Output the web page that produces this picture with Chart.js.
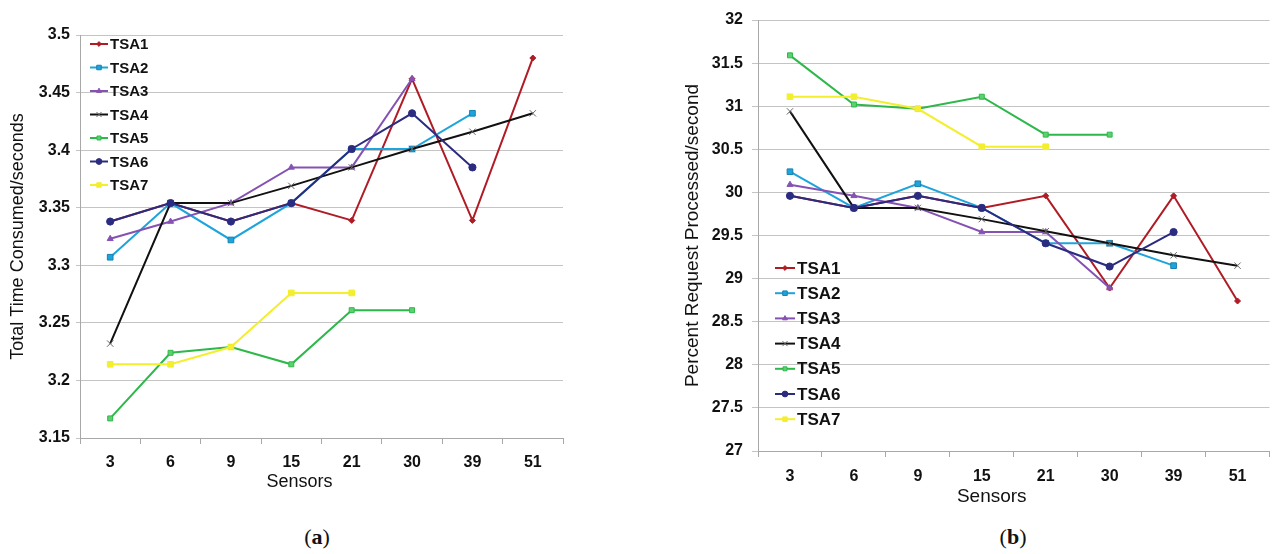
<!DOCTYPE html>
<html>
<head>
<meta charset="utf-8">
<script src="https://cdn.jsdelivr.net/npm/chart.js@4.4.0/dist/chart.umd.min.js"></script>
<style>
  body { margin: 0; background: #fff; width: 1275px; height: 554px; position: relative; overflow: hidden; }
  .wrap { position: absolute; top: 0; height: 515px; }
  #wrapA { left: 0; width: 600px; }
  #wrapB { left: 660px; width: 615px; }
  .cap { position: absolute; top: 537px; transform: translate(-50%, -50%); font-family: "Liberation Serif", serif; font-size: 22px; line-height: 1; color: #111; }
</style>
</head>
<body>
<div class="wrap" id="wrapA"><canvas id="chartA"></canvas></div>
<div class="wrap" id="wrapB"><canvas id="chartB"></canvas></div>
<div class="cap" style="left:317px">(<b>a</b>)</div>
<div class="cap" style="left:1013px">(<b>b</b>)</div>
<script>
// x categories
const sensors = ['3', '6', '9', '15', '21', '30', '39', '51'];
const names = ['TSA1', 'TSA2', 'TSA3', 'TSA4', 'TSA5', 'TSA6', 'TSA7'];

// (a) total time consumed, seconds
const timeTSA1 = [3.338, 3.354, 3.338, 3.354, 3.339, 3.462, 3.339, 3.480];
const timeTSA2 = [3.307, 3.354, 3.322, 3.354, 3.401, 3.401, 3.432, null];
const timeTSA3 = [3.323, 3.338, 3.354, 3.385, 3.385, 3.462, null, null];
const timeTSA4 = [3.232, 3.354, 3.354, 3.369, 3.385, 3.401, 3.416, 3.432];
const timeTSA5 = [3.167, 3.224, 3.229, 3.214, 3.261, 3.261, null, null];
const timeTSA6 = [3.338, 3.354, 3.338, 3.354, 3.401, 3.432, 3.385, null];
const timeTSA7 = [3.214, 3.214, 3.229, 3.276, 3.276, null, null, null];

// (b) percent request processed per second
const rateTSA1 = [29.96, 29.82, 29.96, 29.82, 29.96, 28.89, 29.96, 28.74];
const rateTSA2 = [30.24, 29.82, 30.10, 29.82, 29.41, 29.41, 29.15, null];
const rateTSA3 = [30.09, 29.96, 29.82, 29.54, 29.54, 28.89, null, null];
const rateTSA4 = [30.94, 29.82, 29.82, 29.69, 29.55, 29.41, 29.27, 29.15];
const rateTSA5 = [31.59, 31.02, 30.97, 31.11, 30.67, 30.67, null, null];
const rateTSA6 = [29.96, 29.82, 29.96, 29.82, 29.41, 29.14, 29.54, null];
const rateTSA7 = [31.11, 31.11, 30.97, 30.53, 30.53, null, null, null];

const colors  = ['#b01c26', '#1ea4dc', '#8552b4', '#111111', '#2db84a', '#2b2c80', '#f3ef2e'];
const markers = [
  { style: 'rectRot',  r: 3,   fill: '#b01c26', edge: '#b01c26' },
  { style: 'rect',     r: 4,   fill: '#1ea4dc', edge: '#1680b0' },
  { style: 'triangle', r: 3.5, fill: '#8552b4', edge: '#8552b4' },
  { style: 'crossRot', r: 4.5, fill: '#666666', edge: '#666666' },
  { style: 'rect',     r: 3.5, fill: '#5fd070', edge: '#2db84a' },
  { style: 'circle',   r: 3.6, fill: '#2b2c80', edge: '#2b2c80' },
  { style: 'rect',     r: 4,   fill: '#f3ef2e', edge: '#f3ef2e' }
];

Chart.defaults.font.family = '"Liberation Sans", Arial, sans-serif';
Chart.defaults.color = '#111';

function buildDatasets(seriesList) {
  return seriesList.map((data, i) => ({
    label: names[i],
    data,
    borderColor: colors[i],
    backgroundColor: colors[i],
    borderWidth: 2,
    tension: 0,
    pointStyle: markers[i].style,
    pointRadius: markers[i].r,
    pointBackgroundColor: markers[i].fill,
    pointBorderColor: markers[i].edge,
    pointBorderWidth: 1,
    order: -i
  }));
}

// legend drawn inside the plot, top-left / bottom-left
const insideLegend = {
  id: 'insideLegend',
  afterDraw(chart, args, opts) {
    const ctx = chart.ctx;
    ctx.save();
    ctx.font = opts.font;
    ctx.textBaseline = 'middle';
    chart.data.datasets.forEach((ds, i) => {
      const y = opts.y + i * opts.gap;
      ctx.strokeStyle = ds.borderColor;
      ctx.lineWidth = 2;
      ctx.beginPath();
      ctx.moveTo(opts.x, y);
      ctx.lineTo(opts.x + opts.len, y);
      ctx.stroke();
      ctx.fillStyle = ds.pointBackgroundColor;
      ctx.strokeStyle = ds.pointBorderColor;
      ctx.lineWidth = 1;
      Chart.helpers.drawPoint(ctx, { pointStyle: ds.pointStyle, radius: ds.pointRadius * 0.8, borderWidth: 1 }, opts.x + opts.len / 2, y);
      ctx.fillStyle = '#111';
      ctx.fillText(ds.label, opts.x + opts.len + 2, y + 1);
    });
    ctx.restore();
  }
};

// x axis title, slightly left of centre as in the figure
const xTitle = {
  id: 'xTitle',
  afterDraw(chart, args, opts) {
    const ctx = chart.ctx;
    const a = chart.chartArea;
    ctx.save();
    ctx.font = opts.font;
    ctx.fillStyle = '#111';
    ctx.textAlign = 'center';
    ctx.textBaseline = 'middle';
    ctx.fillText(opts.text, (a.left + a.right) / 2 + opts.dx, opts.y);
    ctx.restore();
  }
};

function makeChart(id, seriesList, cfg) {
  return new Chart(document.getElementById(id), {
    type: 'line',
    data: { labels: sensors, datasets: buildDatasets(seriesList) },
    plugins: [insideLegend, xTitle],
    options: {
      responsive: true,
      maintainAspectRatio: false,
      animation: false,
      layout: { padding: { left: 0, top: cfg.top, right: cfg.right, bottom: 0 } },
      plugins: {
        legend: { display: false },
        tooltip: { enabled: false },
        insideLegend: cfg.legend,
        xTitle: cfg.xTitle
      },
      scales: {
        x: {
          offset: true,
          grid: { offset: true, drawOnChartArea: false, tickLength: 6, color: '#a8a8a8' },
          border: { color: '#a8a8a8' },
          ticks: { font: { size: 16, weight: 'bold' }, padding: cfg.xPad, color: '#111' },
          afterFit: (s) => { s.height = cfg.xHeight; }
        },
        y: {
          min: cfg.min,
          max: cfg.max,
          grid: { color: '#c4c4c4', tickLength: cfg.yTick },
          border: { color: '#a8a8a8' },
          ticks: {
            stepSize: cfg.step,
            font: { size: 16, weight: 'bold' },
            padding: cfg.yPad,
            color: '#111',
            callback: (v) => String(+v.toFixed(2))
          },
          title: { display: true, text: cfg.yTitle, font: { size: cfg.titleSize }, padding: { top: cfg.yTitlePad, bottom: 0 }, color: '#111' },
          afterFit: (s) => { s.width = cfg.yWidth; }
        }
      }
    }
  });
}

makeChart('chartA', [timeTSA1, timeTSA2, timeTSA3, timeTSA4, timeTSA5, timeTSA6, timeTSA7], {
  top: 35, right: 37, xHeight: 77, yWidth: 80,
  min: 3.15, max: 3.5, step: 0.05,
  xPad: 9, yPad: 6, yTick: 4,
  yTitle: 'Total Time Consumed/seconds', titleSize: 18, yTitlePad: 7,
  legend: { x: 90, y: 44, len: 18, gap: 23.5, font: 'bold 15px "Liberation Sans", Arial' },
  xTitle: { text: 'Sensors', dx: -22, y: 482, font: '18px "Liberation Sans", Arial' }
});

makeChart('chartB', [rateTSA1, rateTSA2, rateTSA3, rateTSA4, rateTSA5, rateTSA6, rateTSA7], {
  top: 20, right: 2, xHeight: 64, yWidth: 98,
  min: 27, max: 32, step: 0.5,
  xPad: 10, yPad: 9, yTick: 6,
  yTitle: 'Percent Request Processed/second', titleSize: 19, yTitlePad: 21,
  legend: { x: 115, y: 268, len: 20, gap: 25.2, font: 'bold 17px "Liberation Sans", Arial' },
  xTitle: { text: 'Sensors', dx: -22, y: 497, font: '19px "Liberation Sans", Arial' }
});
</script>
</body>
</html>
